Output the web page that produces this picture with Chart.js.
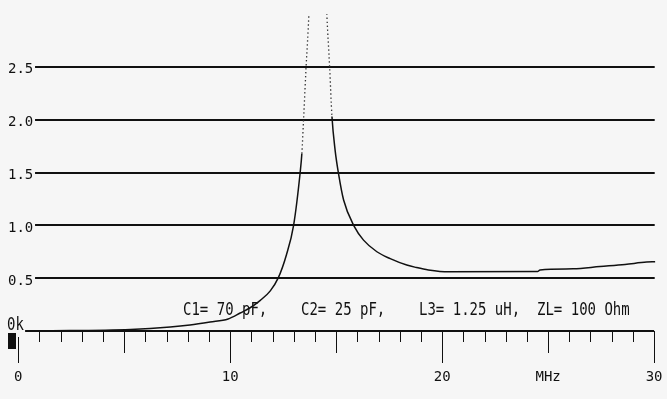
<!DOCTYPE html>
<html>
<head>
<meta charset="utf-8">
<script src="https://cdn.jsdelivr.net/npm/chart.js@4.4.0/dist/chart.umd.min.js"></script>
<style>
  html, body { margin: 0; padding: 0; background: #f6f6f6; }
  #wrap { width: 667px; height: 399px; }
</style>
</head>
<body>
<div id="wrap"><canvas id="chart" width="667" height="399"></canvas></div>
<script>
// Frequency sweep (MHz) and plotted value
const freqs = [1, 5.3, 7.17, 8.1, 9.05, 9.9, 10.47, 10.94, 11.42, 11.89, 12.26, 12.65, 12.99,
  13.3, 13.38, 13.46, 13.58, 13.71, 13.85, 14.1, 14.4, 14.56, 14.69, 14.8, 14.95, 15.11,
  15.35, 15.85, 16.29, 16.92, 17.55, 18.33, 18.8, 19.35, 20.3, 24.5, 24.62, 26.18, 27.45,
  28.63, 29.65, 30.05];
const values = [0, 0.015, 0.038, 0.057, 0.085, 0.114, 0.17, 0.22, 0.29, 0.38, 0.5, 0.72, 1.0,
  1.50, 1.68, 2.0, 2.5, 2.99, 3.8, 8, 3.8, 2.99, 2.5, 2.03, 1.71, 1.49,
  1.24, 0.99, 0.86, 0.75, 0.685, 0.624, 0.6, 0.578, 0.56, 0.562, 0.578, 0.588, 0.61,
  0.63, 0.652, 0.655];

const gridLevels = [0.5, 1.0, 1.5, 2.0, 2.5];
const xLabelTicks = [0, 10, 20, 25, 30];
const xLabelText = { 0: '0', 10: '10', 20: '20', 25: 'MHz', 30: '30' };
const zeroLabel = '0k';
const caption = 'C1= 70 pF,    C2= 25 pF,    L3= 1.25 uH,  ZL= 100 Ohm';

const MONO = 'DejaVu Sans Mono';
const INK = '#111';

// steep parts of the resonance look dotted on the screen
function isDotted(ctx) {
  const a = ctx.p0.parsed, b = ctx.p1.parsed;
  const lo = Math.min(a.y, b.y);
  return a.x < 14.1 ? lo >= 1.6 : lo >= 2.0;
}

// grid lines, ruler ticks and screen text
const screenPlugin = {
  id: 'screen',
  beforeDatasetsDraw(chart) {
    const { ctx, scales: { x, y } } = chart;
    ctx.save();
    ctx.strokeStyle = INK;

    // horizontal grid lines
    ctx.lineWidth = 2;
    gridLevels.forEach(v => {
      const py = Math.round(y.getPixelForValue(v));
      ctx.beginPath();
      ctx.moveTo(x.getPixelForValue(0.79), py);
      ctx.lineTo(x.getPixelForValue(30.03), py);
      ctx.stroke();
    });

    // zero axis
    const y0 = Math.round(y.getPixelForValue(0));
    ctx.beginPath();
    ctx.moveTo(x.getPixelForValue(0.32), y0);
    ctx.lineTo(x.getPixelForValue(30), y0);
    ctx.stroke();

    // ruler ticks, 1 MHz apart
    ctx.lineWidth = 1;
    for (let f = 0; f <= 30; f++) {
      const px = Math.round(x.getPixelForValue(f)) + 0.5;
      const len = f % 10 === 0 ? 32 : (f % 5 === 0 ? 22 : 11);
      ctx.beginPath();
      ctx.moveTo(px, f === 0 ? y0 + 6 : y0);
      ctx.lineTo(px, y0 + len);
      ctx.stroke();
    }

    // cursor block
    ctx.fillStyle = INK;
    const x0 = x.getPixelForValue(0);
    ctx.fillRect(Math.round(x0 - 10), y0 + 2, 8, 16);

    // text, stretched tall like the screen font
    ctx.font = '14px "' + MONO + '"';
    ctx.textBaseline = 'alphabetic';
    ctx.textAlign = 'left';
    ctx.save();
    ctx.translate(7, y0 - 1);
    ctx.scale(1, 1.2);
    ctx.fillText(zeroLabel, 0, 0);
    ctx.restore();

    ctx.save();
    ctx.translate(183, 315);
    ctx.scale(1, 1.2);
    ctx.fillText(caption, 0, 0);
    ctx.restore();

    ctx.restore();
  }
};

new Chart(document.getElementById('chart'), {
  type: 'line',
  data: {
    datasets: [{
      data: freqs.map((f, i) => ({ x: f, y: values[i] })),
      borderColor: INK,
      borderWidth: 1.5,
      pointRadius: 0,
      cubicInterpolationMode: 'monotone',
      segment: {
        borderDash: ctx => isDotted(ctx) ? [1.4, 2.6] : undefined,
        borderColor: ctx => isDotted(ctx) ? '#333' : undefined,
        borderWidth: ctx => isDotted(ctx) ? 1.3 : undefined
      }
    }]
  },
  options: {
    responsive: false,
    animation: false,
    devicePixelRatio: 1,
    layout: { padding: { top: 14, left: 0, right: 0, bottom: 0 } },
    plugins: { legend: { display: false }, tooltip: { enabled: false } },
    scales: {
      x: {
        type: 'linear',
        min: -0.675,
        max: 30.61,
        afterBuildTicks: s => { s.ticks = xLabelTicks.map(v => ({ value: v })); },
        afterFit: s => { s.height = 68; s.paddingLeft = 0; s.paddingRight = 0; },
        grid: { display: false, drawTicks: false },
        border: { display: false },
        ticks: {
          autoSkip: false,
          maxRotation: 0,
          padding: 38,
          color: INK,
          font: { family: MONO, size: 14 },
          callback: v => xLabelText[v]
        }
      },
      y: {
        type: 'linear',
        min: 0,
        max: 3.0,
        afterBuildTicks: s => { s.ticks = gridLevels.map(v => ({ value: v })); },
        afterFit: s => { s.width = 4; s.paddingTop = 0; s.paddingBottom = 0; },
        grid: { display: false, drawTicks: false },
        border: { display: false },
        ticks: {
          mirror: true,
          padding: 4,
          labelOffset: 3,
          color: INK,
          font: { family: MONO, size: 14 },
          callback: v => v.toFixed(1)
        }
      }
    }
  },
  plugins: [screenPlugin]
});
</script>
</body>
</html>
